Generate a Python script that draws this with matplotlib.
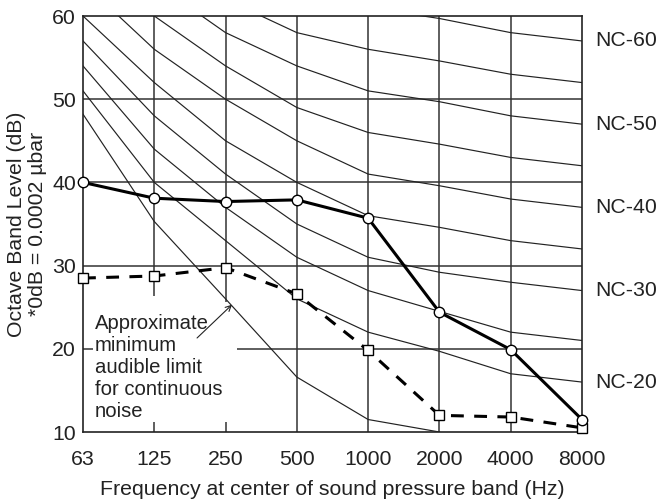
import matplotlib
matplotlib.use("Agg")
import matplotlib.pyplot as plt

plt.rcParams['font.family'] = ['Liberation Sans', 'DejaVu Sans']

freqs = ["63", "125", "250", "500", "1000", "2000", "4000", "8000"]

nc_curves = {
    "NC-20": [51, 40, 33, 26, 22, 19.7, 17, 16],
    "NC-25": [54, 44, 37, 31, 27, 24.5, 22, 21],
    "NC-30": [57, 48, 41, 35, 31, 29.2, 28, 27],
    "NC-35": [60, 52, 45, 40, 36, 34.6, 33, 32],
    "NC-40": [64, 56, 50, 45, 41, 39.6, 38, 37],
    "NC-45": [67, 60, 54, 49, 46, 44.6, 43, 42],
    "NC-50": [71, 64, 58, 54, 51, 49.7, 48, 47],
    "NC-55": [74, 67, 62, 58, 56, 54.6, 53, 52],
    "NC-60": [77, 71, 67, 63, 61, 59.7, 58, 57],
}
labeled_nc = ["NC-60", "NC-50", "NC-40", "NC-30", "NC-20"]

threshold = [48.2, 35.3, 26.0, 16.6, 11.5, 10.0]

solid_series = [40.0, 38.1, 37.7, 37.9, 35.7, 24.4, 19.9, 11.5]
dashed_series = [28.5, 28.75, 29.75, 26.6, 19.8, 12.0, 11.8, 10.5]

yticks = [10, 20, 30, 40, 50, 60]

fig = plt.figure(figsize=(6.57, 5.01), dpi=100)
ax = fig.add_axes([83/657, 69/501, 499/657, 416/501])

x = list(range(len(freqs)))
ax.set_xlim(0, len(freqs) - 1)
ax.set_ylim(10, 60)

grid_kw = dict(color='#333333', lw=1.1, zorder=1)
# horizontal grid lines
for yv in [30, 40, 50]:
    ax.hlines(yv, 0, len(freqs) - 1, **grid_kw)
ax.hlines(20, 0, 0.14, **grid_kw)
ax.hlines(20, 2.16, len(freqs) - 1, **grid_kw)
# vertical grid lines
for xv in [3, 4, 5, 6]:
    ax.vlines(xv, 10, 60, **grid_kw)
ax.vlines(1, 26.3, 60, **grid_kw)
ax.vlines(1, 10, 11.2, **grid_kw)
ax.vlines(2, 25.6, 60, **grid_kw)
ax.vlines(2, 10, 11.2, **grid_kw)

for name, vals in nc_curves.items():
    ax.plot(x, vals, color='#222222', lw=0.85, zorder=2)
    if name in labeled_nc:
        ax.annotate(name, xy=(len(freqs) - 1, vals[-1]), xytext=(9.5, 0),
                    textcoords='offset points', ha='left', va='center',
                    fontsize=15.3, color='#222222', annotation_clip=False)

ax.plot(x[:len(threshold)], threshold, color='#222222', lw=0.85, zorder=2)

ax.plot(x, solid_series, color='black', lw=2.2, marker='o', ms=7.5,
        mfc='white', mec='black', mew=1.0, zorder=5, clip_on=False)
ax.plot(x, dashed_series, color='black', lw=2.2, dashes=(4.2, 3.4),
        marker='s', ms=7.5, mfc='white', mec='black', mew=1.0,
        zorder=4, clip_on=False)

ax.annotate("", xy=(2.09, 25.3), xytext=(1.6, 21.3),
            arrowprops=dict(arrowstyle='->', color='#222222', lw=0.8,
                            shrinkA=0, shrinkB=0), zorder=6)
ax.text(0.17, 24.2, "Approximate\nminimum\naudible limit\nfor continuous\nnoise",
        ha='left', va='top', fontsize=14.6, color='#222222', linespacing=1.2,
        zorder=6)

ax.set_xticks(x)
ax.set_xticklabels(freqs)
ax.set_yticks(yticks)
ax.tick_params(axis='both', length=0, labelsize=15.3, colors='#222222')
ax.tick_params(axis='x', pad=13)
ax.tick_params(axis='y', pad=5)

for sp in ax.spines.values():
    sp.set_color('#222222')
    sp.set_linewidth(1.2)

ax.set_xlabel("Frequency at center of sound pressure band (Hz)", fontsize=15.3,
              color='#222222', labelpad=8)
ax.set_ylabel("Octave Band Level (dB)\n*0dB = 0.0002 µbar", fontsize=15.3,
              color='#222222', labelpad=4, linespacing=1.12)

fig.savefig("out.png", dpi=100)
